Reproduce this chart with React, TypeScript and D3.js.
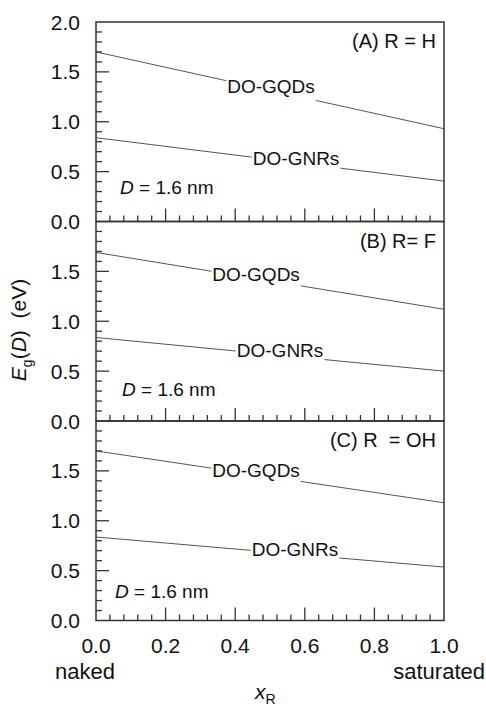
import * as d3 from "d3";
import { useRef, useEffect } from "react";

// composition x_R: only the two ends are plotted, the curves are straight
const xEnds = [0, 1];
const panelTitles = ["(A) R = H", "(B) R= F", "(C) R  = OH"];
const seriesNames = ["DO-GQDs", "DO-GNRs"];
// E_g at x=0 and x=1, per panel
const gqdValues = [
  [1.7, 0.93],
  [1.69, 1.12],
  [1.7, 1.18],
];
const gnrValues = [
  [0.84, 0.405],
  [0.837, 0.5],
  [0.837, 0.536],
];
const sizeNote = "1.6 nm";
const xTickValues = [0, 0.2, 0.4, 0.6, 0.8, 1.0];
const yTickValues = [0, 0.5, 1.0, 1.5, 2.0];

// where the inline series labels sit (x in data units)
const labelAt = [
  [0.503, 0.575],
  [0.46, 0.529],
  [0.46, 0.572],
];
// "D = 1.6 nm" offsets from panel's left / bottom
const notePos = [
  [24, 28],
  [26, 25],
  [19, 23],
];

const width = 486;
const height = 711;
const marginLeft = 96;
const marginRight = 42;
const marginTop = 22;
const panelH = 199.5;
const font = "'Liberation Sans', Arial, sans-serif";
const axisColor = "#333";
const lineColor = "#555";

export default function App() {
  const ref = useRef<SVGSVGElement>(null);

  useEffect(() => {
    const svg = d3.select(ref.current);
    svg.selectAll("*").remove();

    const x = d3.scaleLinear([0, 1], [marginLeft, width - marginRight]);
    const minorX = d3.range(0, 1.0001, 0.04);
    const minorY = d3.range(0, 2.0001, 0.1);

    panelTitles.forEach((title, i) => {
      const top = marginTop + i * panelH;
      const bottom = top + panelH;
      const y = d3.scaleLinear([0, 2], [bottom, top]);
      const g = svg.append("g");

      const series = [gqdValues[i], gnrValues[i]];
      const line = d3
        .line<number>()
        .x((_, j) => x(xEnds[j]))
        .y((d) => y(d));

      series.forEach((vals) => {
        g.append("path")
          .attr("d", line(vals))
          .attr("fill", "none")
          .attr("stroke", lineColor)
          .attr("stroke-width", 1);
      });

      // labels with a white box that cuts the line
      series.forEach((vals, k) => {
        const lx = labelAt[i][k];
        const ly = vals[0] + (vals[1] - vals[0]) * lx;
        const lg = g.append("g");
        const rect = lg.append("rect").attr("fill", "white");
        const t = lg
          .append("text")
          .attr("x", x(lx))
          .attr("y", y(ly) + 2)
          .attr("text-anchor", "middle")
          .attr("font-family", font)
          .attr("font-size", 19)
          .attr("fill", "#111")
          .text(seriesNames[k]);
        const bb = (t.node() as SVGTextElement).getBBox();
        rect
          .attr("x", bb.x - 1)
          .attr("y", bb.y - 4)
          .attr("width", bb.width + 2)
          .attr("height", bb.height + 10);
      });

      // panel title
      g.append("text")
        .attr("x", width - marginRight - 8)
        .attr("y", top + 26)
        .attr("text-anchor", "end")
        .attr("font-family", font)
        .attr("font-size", 20)
        .attr("fill", "#111")
        .style("white-space", "pre")
        .text(title);

      // D = 1.6 nm
      const note = g
        .append("text")
        .attr("x", marginLeft + notePos[i][0])
        .attr("y", bottom - notePos[i][1])
        .attr("font-family", font)
        .attr("font-size", 19)
        .attr("fill", "#111");
      note.append("tspan").attr("font-style", "italic").text("D");
      note.append("tspan").text(` = ${sizeNote}`);

      // frame
      g.append("rect")
        .attr("x", marginLeft)
        .attr("y", top)
        .attr("width", width - marginRight - marginLeft)
        .attr("height", panelH)
        .attr("fill", "none")
        .attr("stroke", axisColor)
        .attr("stroke-width", 1.5);

      // y ticks, inward
      g.selectAll(".ytick")
        .data(minorY.filter((v) => v > 0.001 && v < 1.999))
        .join("line")
        .attr("x1", marginLeft)
        .attr("x2", (d) =>
          marginLeft + (Math.abs(d * 2 - Math.round(d * 2)) < 0.01 ? 13 : 6)
        )
        .attr("y1", (d) => y(d))
        .attr("y2", (d) => y(d))
        .attr("stroke", axisColor)
        .attr("stroke-width", 1.3);

      // x ticks, inward
      g.selectAll(".xtick")
        .data(minorX.filter((v) => v > 0.001 && v < 0.999))
        .join("line")
        .attr("x1", (d) => x(d))
        .attr("x2", (d) => x(d))
        .attr("y1", bottom)
        .attr("y2", (d) =>
          bottom - (Math.abs(d * 5 - Math.round(d * 5)) < 0.01 ? 13 : 6)
        )
        .attr("stroke", axisColor)
        .attr("stroke-width", 1.3);

      // y tick labels
      g.selectAll(".ylab")
        .data(yTickValues.filter((v) => i === 0 || v < 1.9))
        .join("text")
        .attr("x", 80)
        .attr("y", (d) => y(d) + 7.5)
        .attr("text-anchor", "end")
        .attr("font-family", font)
        .attr("font-size", 21)
        .attr("fill", "#111")
        .text((d) => d3.format(".1f")(d));

      if (i === panelTitles.length - 1) {
        g.selectAll(".xlab")
          .data(xTickValues)
          .join("text")
          .attr("x", (d) => x(d))
          .attr("y", bottom + 32)
          .attr("text-anchor", "middle")
          .attr("font-family", font)
          .attr("font-size", 21)
          .attr("fill", "#111")
          .text((d) => d3.format(".1f")(d));
      }
    });

    const base = marginTop + 3 * panelH;
    svg
      .append("text")
      .attr("x", 55)
      .attr("y", base + 58)
      .attr("font-family", font)
      .attr("font-size", 22)
      .attr("fill", "#111")
      .text("naked");
    svg
      .append("text")
      .attr("x", 485)
      .attr("y", base + 58)
      .attr("text-anchor", "end")
      .attr("font-family", font)
      .attr("font-size", 22)
      .attr("fill", "#111")
      .text("saturated");

    const xl = svg
      .append("text")
      .attr("x", 255)
      .attr("y", base + 78)
      .attr("font-family", font)
      .attr("font-size", 21)
      .attr("fill", "#111");
    xl.append("tspan").attr("font-style", "italic").text("x");
    xl.append("tspan").attr("font-size", 14).attr("dy", 5).text("R");

    const yl = svg
      .append("text")
      .attr("transform", `translate(26,330) rotate(-90)`)
      .attr("text-anchor", "middle")
      .attr("font-family", font)
      .attr("font-size", 21)
      .attr("fill", "#111")
      .style("white-space", "pre");
    yl.append("tspan").attr("font-style", "italic").text("E");
    yl.append("tspan").attr("font-size", 14).attr("dy", 6).text("g");
    yl.append("tspan").attr("dy", -6).text("(");
    yl.append("tspan").attr("font-style", "italic").text("D");
    yl.append("tspan").text(")  (eV)");
  }, []);

  return (
    <svg
      ref={ref}
      width={width}
      height={height}
      style={{ position: "absolute", left: 0, top: 0, background: "white" }}
    />
  );
}
